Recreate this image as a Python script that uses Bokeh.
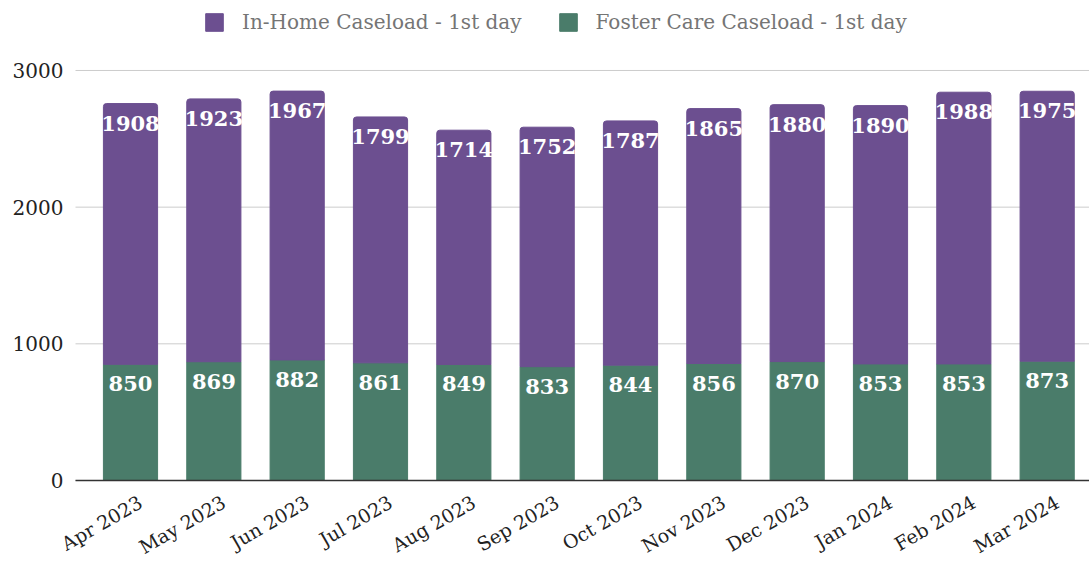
import numpy as np
from bokeh.plotting import figure
from bokeh.models import ColumnDataSource, Legend, LegendItem
from bokeh.embed import file_html
from bokeh.resources import INLINE
from bokeh.core.properties import value

months = ["Apr 2023", "May 2023", "Jun 2023", "Jul 2023", "Aug 2023", "Sep 2023",
          "Oct 2023", "Nov 2023", "Dec 2023", "Jan 2024", "Feb 2024", "Mar 2024"]
foster = [850, 869, 882, 861, 849, 833, 844, 856, 870, 853, 853, 873]
inhome = [1908, 1923, 1967, 1799, 1714, 1752, 1787, 1865, 1880, 1890, 1988, 1975]
y_ticks = [0, 1000, 2000, 3000]

PURPLE = "#6c4f90"
GREEN = "#4a7c6a"
FONT = "DejaVu Serif"

X_START, X_END = -1.56, 11.508
GRID_LEFT = -0.66

xs = list(range(len(months)))
total = [f + h for f, h in zip(foster, inhome)]
src = ColumnDataSource(dict(
    x=xs, foster=foster, inhome=inhome, total=total, zero=[0] * len(xs),
    flab=[str(v) for v in foster], hlab=[str(v) for v in inhome], month=months,
))
tsrc = ColumnDataSource(dict(y=y_ticks, lab=[str(v) for v in y_ticks],
                             x0=[GRID_LEFT] * len(y_ticks), x1=[X_END] * len(y_ticks)))

p = figure(width=1089, height=561, output_backend="svg", toolbar_location=None,
           x_range=(X_START, X_END), y_range=(-592.7, 3512),
           min_border_left=0, min_border_right=0, min_border_top=0, min_border_bottom=0)
p.outline_line_color = None
p.xgrid.visible = False
p.ygrid.visible = False
p.xaxis.visible = False
p.yaxis.visible = False

# horizontal gridlines
p.segment(x0="x0", x1="x1", y0="y", y1="y", source=tsrc, line_color="#cccccc", line_width=1)

rf = p.vbar(x="x", bottom=0, top="foster", width=0.65, color=GREEN, source=src)
rh = p.vbar(x="x", bottom="foster", top="total", width=0.65, color=PURPLE, source=src,
            border_radius=(3, 3, 0, 0))

p.text(x="x", y="foster", text="flab", source=src, text_align="center", text_baseline="top",
       y_offset=12, text_color="white", text_font=value(FONT), text_font_style="bold",
       text_font_size="21px")
p.text(x="x", y="total", text="hlab", source=src, text_align="center", text_baseline="top",
       y_offset=12, text_color="white", text_font=value(FONT), text_font_style="bold",
       text_font_size="21px")

# baseline
p.segment(x0=GRID_LEFT, x1=X_END, y0=0, y1=0, line_color="#333333", line_width=1.5)

# y tick labels
p.text(x="x0", y="y", text="lab", source=tsrc, text_align="right", text_baseline="middle",
       x_offset=-12, text_font=value(FONT), text_font_size="20px", text_color="#222222")

# category labels below the baseline
p.text(x="x", y="zero", text="month", source=src, angle=np.pi / 6,
       text_align="right", text_baseline="middle", x_offset=10, y_offset=20,
       text_font=value(FONT), text_font_size="19px", text_color="#222222")

legend = Legend(items=[LegendItem(label="In-Home Caseload - 1st day", renderers=[rh]),
                       LegendItem(label="Foster Care Caseload - 1st day", renderers=[rf])],
                orientation="horizontal", location=(203, 527),
                label_text_font=FONT, label_text_font_size="20px", label_text_color="#757575",
                glyph_width=22, glyph_height=22, spacing=35, label_standoff=17,
                border_line_color=None, background_fill_alpha=0)
p.add_layout(legend)

open("out.html", "w").write(file_html(p, INLINE))
